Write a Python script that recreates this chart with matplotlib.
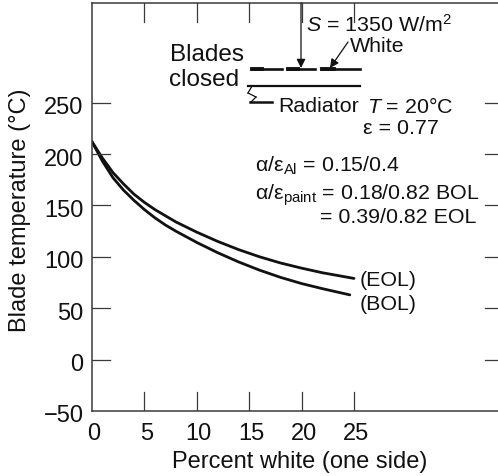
import matplotlib
matplotlib.use('Agg')
import matplotlib.pyplot as plt
from matplotlib.patches import FancyArrowPatch
from matplotlib.transforms import ScaledTranslation

plt.rcParams['font.family'] = ['Liberation Sans', 'DejaVu Sans']
plt.rcParams['mathtext.fontset'] = 'custom'
plt.rcParams['mathtext.rm'] = 'Liberation Sans'
plt.rcParams['mathtext.it'] = 'Liberation Sans:italic'

# curve readings
eol_x = [0, 1, 2, 3, 4, 5, 6, 7, 8, 10, 12, 14, 16, 18, 20, 22, 25]
eol_y = [212, 196, 182, 171, 161, 153, 146, 140, 134, 124, 115, 107, 100, 94, 89, 84.5, 79]
bol_x = [0, 1, 2, 3, 4, 5, 6, 7, 8, 10, 12, 14, 16, 18, 20, 22, 24.6]
bol_y = [212, 193, 177, 165, 155, 146, 138, 131, 125, 114, 104, 95, 87, 80, 74, 69, 63]
x_ticks = [0, 5, 10, 15, 20, 25]
y_ticks = [-50, 0, 50, 100, 150, 200, 250]

W, H = 498, 477
fig = plt.figure(figsize=(W / 100, H / 100), dpi=100)
L, R, T, B = 92, 498, 4, 412
ax = fig.add_axes([L / W, 1 - B / H, (R - L) / W, (B - T) / H])
ax.set_xlim(0, (R - L) / 10.48)
ax.set_ylim(-50, 347)
ink = '#111111'
axis_ink = '#3a3a3a'

ax.plot(eol_x, eol_y, color=ink, lw=2.0, solid_capstyle='round')
ax.plot(bol_x, bol_y, color=ink, lw=2.0, solid_capstyle='round')

ax.spines['right'].set_visible(False)
for s in ['left', 'top', 'bottom']:
    ax.spines[s].set_linewidth(1.1)
    ax.spines[s].set_color(axis_ink)

ax.set_xticks(x_ticks)
ax.set_yticks(y_ticks)
ax.tick_params(length=0, labelsize=17, labelcolor=ink)
ax.tick_params(axis='x', pad=8)
ax.tick_params(axis='y', pad=6)
ax.set_xticklabels([str(v) for v in x_ticks])
ax.set_yticklabels(['\u221250' if v < 0 else str(v) for v in y_ticks])
# labels sit a little right of and below their ticks in the original
for t in ax.get_xticklabels():
    t.set_transform(t.get_transform() + ScaledTranslation(2 / 100, 0, fig.dpi_scale_trans))
for t in ax.get_yticklabels():
    t.set_transform(t.get_transform() + ScaledTranslation(0, -2 / 100, fig.dpi_scale_trans))

# inward ticks, length in axes fractions
tr_x = ax.get_xaxis_transform()
tr_y = ax.get_yaxis_transform()
xt = 19 / (B - T)
yt = 18 / (R - L)
yr = 13 / (R - L)
for v in x_ticks[1:]:
    ax.plot([v, v], [0, xt], transform=tr_x, color=axis_ink, lw=0.9)
    ax.plot([v, v], [1, 1 - xt], transform=tr_x, color=axis_ink, lw=0.9)
for v in y_ticks[1:]:
    ax.plot([0, yt], [v, v], transform=tr_y, color=axis_ink, lw=0.9)
    ax.plot([1, 1 - yr], [v, v], transform=tr_y, color=axis_ink, lw=0.9)


def label(x, y, s, size=15.4, **kw):
    fig.text(x / W, 1 - y / H, s, fontsize=size, va='center', ha='left', color=ink, **kw)


def seg(x0, y0, x1, y1, lw=1.5):
    fig.add_artist(plt.Line2D([x0 / W, x1 / W], [1 - y0 / H, 1 - y1 / H], color=ink, lw=lw))


fig.text(300 / W, 1 - 462 / H, 'Percent white (one side)', fontsize=17, ha='center', va='center', color=ink)
fig.text(20 / W, 1 - 210 / H, 'Blade temperature (\u00b0C)', fontsize=17, ha='center', va='center',
         rotation=90, color=ink)

label(360, 281, '(EOL)')
label(360, 305, '(BOL)')
label(170, 55, 'Blades', 17.5)
label(169, 80, 'closed', 17.5)
label(306, 25, '$\\mathit{S}$ = 1350 W/m$^2$')
label(350, 47, 'White')
label(278, 107, 'Radiator')
label(367, 107, '$\\mathit{T}$ = 20\u00b0C')
label(363, 128, '\u03b5 = 0.77')
label(255, 166, '\u03b1/\u03b5$_{\\mathrm{Al}}$ = 0.15/0.4')
label(255, 195, '\u03b1/\u03b5$_{\\mathrm{paint}}$ = 0.18/0.82 BOL')
label(320, 218, '= 0.39/0.82 EOL')

# blades sketch
seg(252, 70, 282, 70, 1.9)
seg(252, 69.5, 262, 69.5, 2.8)
seg(288, 70, 315, 70, 1.9)
seg(288, 69.5, 298, 69.5, 2.8)
seg(322, 70, 360, 70, 1.9)
seg(322, 69.5, 334, 69.5, 2.8)
seg(248, 87, 360, 87, 1.6)
seg(250, 103, 272, 103, 1.8)
seg(252, 87, 248, 94, 0.9)
seg(248, 94, 256, 98, 0.9)
seg(256, 98, 251, 103, 0.9)
for start, end in [((301, 4), (301, 69)), ((348, 43), (330, 69))]:
    fig.add_artist(FancyArrowPatch((start[0] / W, 1 - start[1] / H), (end[0] / W, 1 - end[1] / H),
                                   transform=fig.transFigure, arrowstyle='-|>', mutation_scale=13,
                                   color=ink, lw=0.9, shrinkA=0, shrinkB=0))

fig.savefig('out.png', dpi=100)
